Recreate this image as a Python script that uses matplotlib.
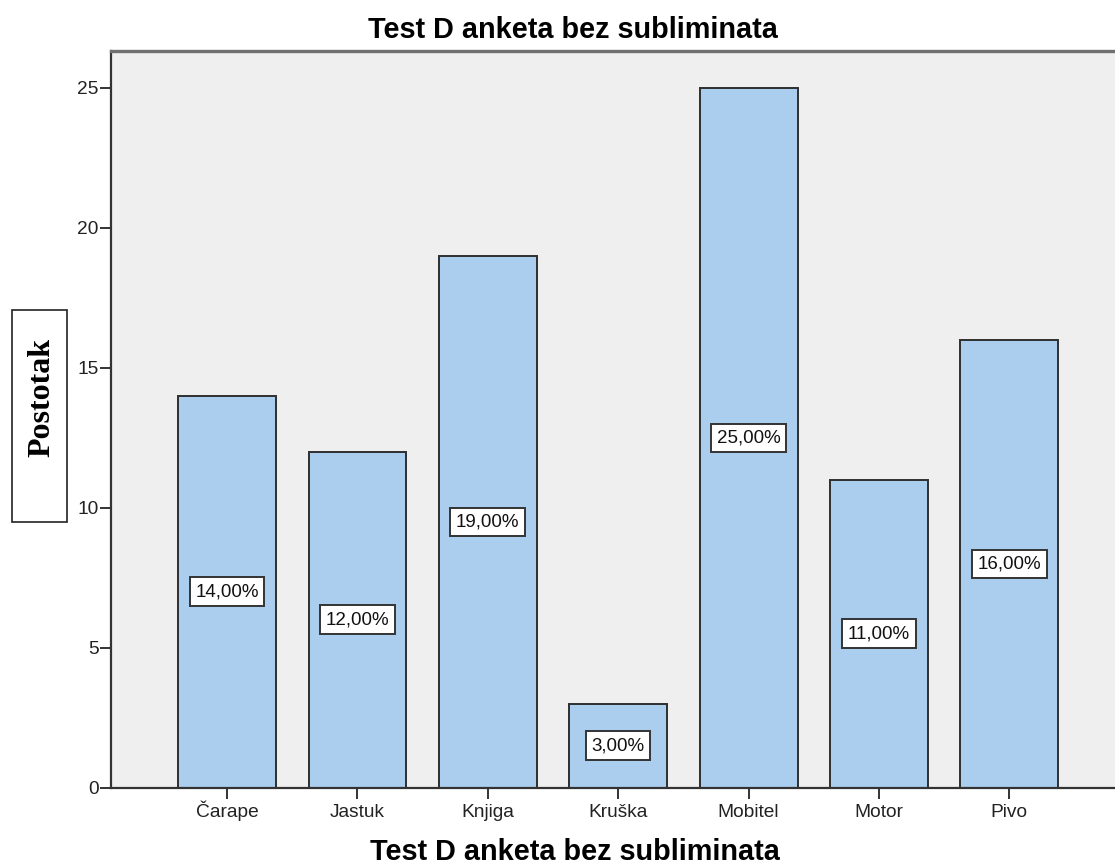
import numpy as np
import matplotlib
matplotlib.use('Agg')
import matplotlib.pyplot as plt
from matplotlib.patches import Rectangle

categories = ['Čarape', 'Jastuk', 'Knjiga', 'Kruška', 'Mobitel', 'Motor', 'Pivo']
values = [14, 12, 19, 3, 25, 11, 16]
y_ticks = [0, 5, 10, 15, 20, 25]
title = 'Test D anketa bez subliminata'
y_label = 'Postotak'

plt.rcParams['font.family'] = ['Liberation Sans', 'DejaVu Sans']

fig = plt.figure(figsize=(11.15, 8.67), dpi=100)
ax = fig.add_axes([111 / 1115, 1 - 787.5 / 867, 1 - 111 / 1115, (787.5 - 51) / 867])
ax.set_facecolor('#efefef')

x = np.arange(len(categories))
ax.bar(x, values, width=0.75, color='#abcdee', edgecolor='#2e2e2e', linewidth=1.4, zorder=2)

for xi, v in zip(x, values):
    ax.text(xi, v / 2, '%d,00%%' % v, ha='center', va='center', fontsize=13.5, color='#111111',
            zorder=3, bbox=dict(boxstyle='square,pad=0.3', fc='white', ec='#333333', lw=1.4))

ax.set_xlim(-0.89, 6.81)
ax.set_ylim(0, 26.32)
ax.set_xticks(x)
ax.set_xticklabels(categories, fontsize=13.8, color='#222222', va='baseline')
ax.set_yticks(y_ticks)
ax.set_yticklabels([str(t) for t in y_ticks], fontsize=13.8, color='#222222')
ax.tick_params(axis='both', direction='out', length=8, width=1.4, color='#333333', pad=1)
ax.tick_params(axis='x', pad=13.5)

ax.spines['right'].set_visible(False)
ax.spines['left'].set_color('#333333')
ax.spines['left'].set_linewidth(1.6)
ax.spines['bottom'].set_color('#333333')
ax.spines['bottom'].set_linewidth(1.6)
ax.spines['top'].set_color('#707070')
ax.spines['top'].set_linewidth(2.4)

fig.text(573 / 1115, 1 - 30 / 867, title, ha='center', va='center', fontsize=20.8, fontweight='bold')
fig.text(575 / 1115, 1 - 852 / 867, title, ha='center', va='center', fontsize=20.8, fontweight='bold')

# boxed y label
fig.patches.append(Rectangle((12 / 1115, 1 - 522 / 867), 55 / 1115, 212 / 867,
                             transform=fig.transFigure, fill=False, ec='#222222', lw=1.2))
fig.text(42 / 1115, 1 - 397 / 867, y_label, rotation=90, ha='center', va='center',
         fontsize=23, fontweight='bold', family=['Liberation Serif', 'DejaVu Serif'])

fig.savefig('out.png', dpi=100)
